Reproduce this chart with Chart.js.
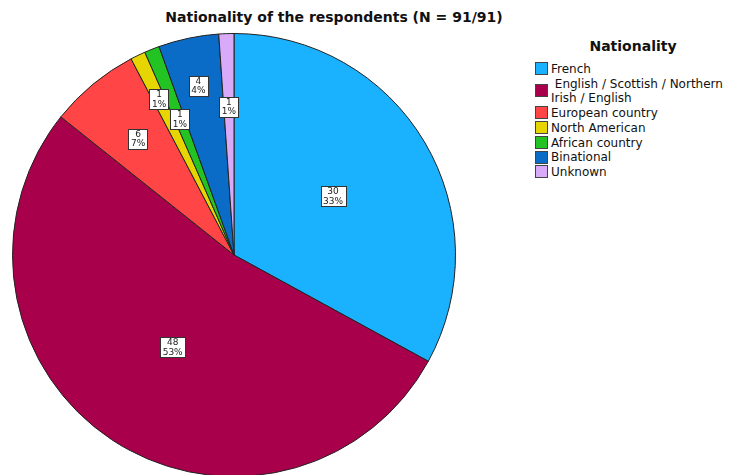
<!DOCTYPE html>
<html>
<head>
<meta charset="utf-8">
<script src="https://cdn.jsdelivr.net/npm/chart.js@4/dist/chart.umd.min.js"></script>
<style>
    html, body { margin: 0; padding: 0; background: #fff; overflow: hidden; }
    body { width: 732px; height: 475px; position: relative; font-family: "DejaVu Sans", sans-serif; color: #111; }
    #titulo { position: absolute; left: 0; top: 9px; width: 668px; text-align: center; font-weight: bold; font-size: 14px; }
    #pieBox { position: absolute; left: 12px; top: 33px; width: 444px; height: 444px; }
    #leyenda { position: absolute; left: 535px; top: 38px; width: 200px; font-size: 12px; }
    #leyenda .cab { font-weight: bold; font-size: 14px; text-align: center; width: 196px; margin-bottom: 8px; }
    #leyenda .fila { position: relative; padding-left: 16px; line-height: 14.7px; white-space: nowrap; }
    #leyenda .caja { position: absolute; left: 0; top: 50%; width: 11px; height: 11px; margin-top: -7px; border: 1px solid #444; }
</style>
</head>
<body>
<div id="titulo">Nationality of the respondents (N = 91/91)</div>
<div id="pieBox"><canvas id="myChart"></canvas></div>
<div id="leyenda"></div>
<script>
// datos
const categorias = ['French', ' English / Scottish / Northern\nIrish / English', 'European country', 'North American', 'African country', 'Binational', 'Unknown'];
const frecuencias = [30, 48, 6, 1, 1, 4, 1];
const porcentajes = ['33%', '53%', '7%', '1%', '1%', '4%', '1%'];

const colores = ['#1AB2FF', '#A8004A', '#FF4545', '#E6D500', '#22C322', '#0A6CC6', '#D8AAF8'];
// distancia de cada etiqueta al centro (fraccion del radio)
const radioEtiqueta = [0.52, 0.5, 0.68, 0.78, 0.66, 0.78, 0.67];

const etiquetasPlugin = {
    id: 'etiquetas',
    afterDatasetsDraw(chart) {
        const ctx = chart.ctx;
        const meta = chart.getDatasetMeta(0);
        ctx.save();
        ctx.font = '9px "DejaVu Sans"';
        ctx.textAlign = 'center';
        ctx.textBaseline = 'middle';
        meta.data.forEach((arc, i) => {
            const mid = (arc.startAngle + arc.endAngle) / 2;
            const r = arc.outerRadius * radioEtiqueta[i];
            const x = arc.x + Math.cos(mid) * r;
            const y = arc.y + Math.sin(mid) * r;
            const l1 = String(frecuencias[i]);
            const l2 = porcentajes[i];
            const w = Math.max(ctx.measureText(l1).width, ctx.measureText(l2).width) + 5;
            const h = 20;
            ctx.fillStyle = '#fff';
            ctx.fillRect(Math.round(x - w / 2) + 0.5, Math.round(y - h / 2) + 0.5, Math.round(w), h);
            ctx.strokeStyle = '#333';
            ctx.lineWidth = 1;
            ctx.strokeRect(Math.round(x - w / 2) + 0.5, Math.round(y - h / 2) + 0.5, Math.round(w), h);
            ctx.fillStyle = '#222';
            ctx.fillText(l1, x, y - 4.5);
            ctx.fillText(l2, x, y + 5);
        });
        ctx.restore();
    }
};

function construirLeyenda() {
    const cont = document.getElementById('leyenda');
    let html = '<div class="cab">Nationality</div>';
    categorias.forEach((cat, i) => {
        html += `<div class="fila"><span class="caja" style="background:${colores[i]}"></span>${cat.replace('\n', '<br>').replace(/^ /, '&nbsp;')}</div>`;
    });
    cont.innerHTML = html;
}

document.addEventListener('DOMContentLoaded', () => {
    construirLeyenda();
    const ctx = document.getElementById('myChart').getContext('2d');
    new Chart(ctx, {
        type: 'pie',
        data: {
            labels: categorias,
            datasets: [{
                data: frecuencias,
                backgroundColor: colores,
                borderColor: '#222',
                borderWidth: 1
            }]
        },
        options: {
            responsive: true,
            maintainAspectRatio: false,
            animation: false,
            layout: { padding: 0 },
            plugins: {
                legend: { display: false },
                tooltip: { enabled: false },
                title: { display: false }
            }
        },
        plugins: [etiquetasPlugin]
    });
});
</script>
</body>
</html>
